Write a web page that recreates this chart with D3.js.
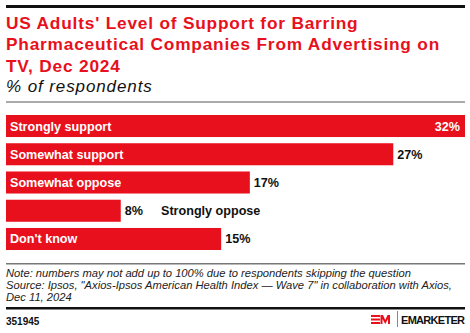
<!DOCTYPE html>
<html><head><meta charset="utf-8">
<script src="https://cdn.jsdelivr.net/npm/d3@7"></script>
<style>
body{margin:0;background:#fff;}
svg{display:block;font-family:"Liberation Sans",Arial,sans-serif;}
</style></head>
<body><svg id="c" width="470" height="333"></svg>
<script>
const categories = ["Strongly support","Somewhat support","Somewhat oppose","Strongly oppose","Don't know"];
const values = [32, 27, 17, 8, 15];
const valueLabels = ["32%","27%","17%","8%","15%"];
const titleLines = ["US Adults' Level of Support for Barring","Pharmaceutical Companies From Advertising on","TV, Dec 2024"];
const subtitle = "% of respondents";
const noteLines = ["Note: numbers may not add up to 100% due to respondents skipping the question",
 "Source: Ipsos, \"Axios-Ipsos American Health Index \u2014 Wave 7\" in collaboration with Axios,",
 "Dec 11, 2024"];
const chartId = "351945";

const svg = d3.select("#c");
const red = "#e8101c";

svg.append("rect").attr("x",6).attr("y",5).attr("width",459).attr("height",3).attr("fill","#111");
svg.append("g").selectAll("text").data(titleLines).join("text")
  .attr("x",6).attr("y",(d,i)=>28.5+i*21.5)
  .attr("fill",red).attr("font-weight","bold").attr("font-size",17.3).attr("letter-spacing",0.8).text(d=>d);
svg.append("text").attr("x",6).attr("y",92).attr("font-size",17).attr("letter-spacing",0.9).attr("font-style","italic").attr("fill","#111").text(subtitle);
svg.append("rect").attr("x",6).attr("y",101).attr("width",459).attr("height",2).attr("fill","#aaa");

const x = d3.scaleLinear().domain([0,32]).range([6,465]);
const y = d3.scaleBand().domain(categories).range([115,250]).paddingInner(0.22).paddingOuter(0);

const g = svg.append("g");
g.selectAll("rect").data(categories).join("rect")
  .attr("x",x(0)).attr("y",d=>y(d)).attr("width",(d,i)=>x(values[i])-x(0)).attr("height",y.bandwidth())
  .attr("fill",red);

const fs = 12.6;
categories.forEach((c,i)=>{
  const yc = y(c)+y.bandwidth()/2+4.5;
  const inside = i===0;
  const xr = x(values[i]);
  if(c!=="Strongly oppose"){
    g.append("text").attr("x",10).attr("y",yc).attr("fill","#fff").attr("font-weight","bold").attr("font-size",fs).text(c);
  }
  const vt = g.append("text").attr("y",yc).attr("font-weight","bold").attr("font-size",fs).text(valueLabels[i]);
  if(inside){ vt.attr("x",xr-5).attr("text-anchor","end").attr("fill","#fff"); }
  else { vt.attr("x",xr+4).attr("fill","#111"); }
  if(c==="Strongly oppose"){
    g.append("text").attr("x",161).attr("y",yc).attr("fill","#111").attr("font-weight","bold").attr("font-size",fs).text(c);
  }
});

svg.append("rect").attr("x",6).attr("y",263).attr("width",459).attr("height",1.5).attr("fill","#777");
svg.append("g").selectAll("text").data(noteLines).join("text")
  .attr("x",6).attr("y",(d,i)=>277+i*12).attr("font-size",11.2).attr("font-style","italic").attr("fill","#222").text(d=>d);
svg.append("rect").attr("x",6).attr("y",307).attr("width",459).attr("height",2.5).attr("fill","#111");
svg.append("text").attr("x",6).attr("y",324.5).attr("font-size",10).attr("font-weight","bold").attr("fill","#111").text(chartId);

// logo
const lg = svg.append("g").attr("transform","translate(371,315)");
lg.append("path").attr("d","M0,0H9V2H0Z M0,3.6H9V5.4H0Z M0,7H9V9H0Z").attr("fill",red);
lg.append("path").attr("d","M9.5,9V0H12L14.25,5L16.5,0H19V9H17V4L14.25,9L11.5,4V9Z").attr("fill",red);
svg.append("rect").attr("x",397).attr("y",311).attr("width",1).attr("height",16).attr("fill","#888");
svg.append("text").attr("x",401).attr("y",323.5).attr("font-size",11).attr("font-weight","bold")
  .attr("textLength",64).attr("lengthAdjust","spacing").attr("fill","#111").text("EMARKETER");
</script></body></html>
